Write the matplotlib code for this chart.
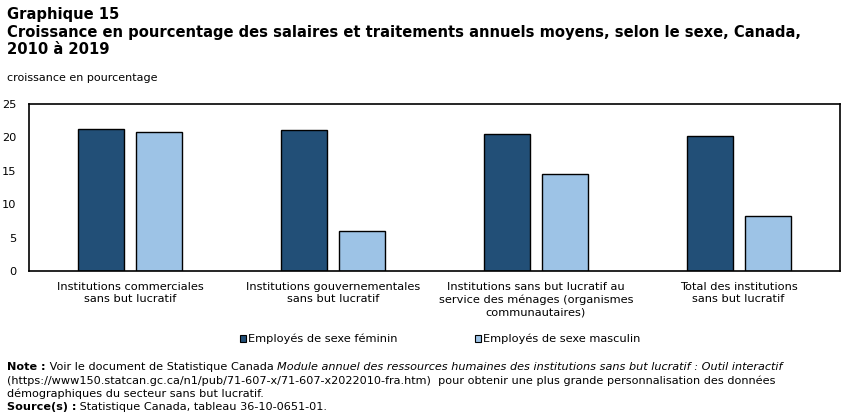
import matplotlib
matplotlib.use("Agg")
import matplotlib.pyplot as plt
import numpy as np
from matplotlib.patches import Patch

categories = [
    "Institutions commerciales\nsans but lucratif",
    "Institutions gouvernementales\nsans but lucratif",
    "Institutions sans but lucratif au\nservice des ménages (organismes\ncommunautaires)",
    "Total des institutions\nsans but lucratif",
]
feminin = [21.3, 21.1, 20.5, 20.2]
masculin = [20.8, 6.0, 14.5, 8.2]
series_names = ["Employés de sexe féminin", "Employés de sexe masculin"]
yticks = [0, 5, 10, 15, 20, 25]

dark = "#224f77"
light = "#9dc3e6"

plt.rcParams["font.family"] = ["DejaVu Sans"]
fig = plt.figure(figsize=(8.5, 4.16), dpi=100)
W, H = 850, 416


def fx(px):
    return px / W


def fy(py):
    return 1 - py / H


ax = fig.add_axes([fx(29), fy(271), fx(840) - fx(29), fy(104) - fy(271)])
x = np.arange(len(categories))
off, w = 0.143, 0.227
ax.bar(x - off, feminin, w, color=dark, edgecolor="black", linewidth=1)
ax.bar(x + off, masculin, w, color=light, edgecolor="black", linewidth=1)
ax.set_xlim(-0.5, len(categories) - 0.5)
ax.set_ylim(0, 25)
ax.set_yticks(yticks)
ax.set_yticklabels([str(t) for t in yticks], fontsize=8.2)
ax.set_xticks(x)
ax.set_xticklabels(categories, fontsize=8.2, linespacing=1.28)
ax.tick_params(axis="x", length=0, pad=8)
ax.tick_params(axis="y", length=0, pad=9)
for s in ax.spines.values():
    s.set_linewidth(1.2)

title_kw = dict(fontsize=10.6, fontweight="bold", va="center")
fig.text(fx(7), fy(14), "Graphique 15", **title_kw)
fig.text(fx(7), fy(32), "Croissance en pourcentage des salaires et traitements annuels moyens, selon le sexe, Canada,",
         **title_kw)
fig.text(fx(7), fy(49), "2010 à 2019", **title_kw)
fig.text(fx(7), fy(78), "croissance en pourcentage", fontsize=8, va="center")

handles = [Patch(facecolor=dark, edgecolor="black", linewidth=0.8),
           Patch(facecolor=light, edgecolor="black", linewidth=0.8)]
fig.legend(handles, series_names, loc="center", bbox_to_anchor=(fx(440), fy(339)), ncol=2,
           frameon=False, fontsize=8.2, handlelength=0.55, handleheight=0.55,
           handletextpad=0.15, columnspacing=6.8)

renderer = fig.canvas.get_renderer()


def line(pieces, py, size=8.1):
    cur = fx(7)
    for txt, style in pieces:
        kw = {}
        if style == "b":
            kw["fontweight"] = "bold"
        elif style == "i":
            kw["fontstyle"] = "italic"
        t = fig.text(cur, fy(py), txt, fontsize=size, va="baseline", **kw)
        bb = t.get_window_extent(renderer)
        cur += bb.width / W


line([("Note :", "b"), (" Voir le document de Statistique Canada ", ""),
      ("Module annuel des ressources humaines des institutions sans but lucratif : Outil interactif", "i")], 370)
line([("(https://www150.statcan.gc.ca/n1/pub/71-607-x/71-607-x2022010-fra.htm)  pour obtenir une plus grande personnalisation des données", "")], 384)
line([("démographiques du secteur sans but lucratif.", "")], 397)
line([("Source(s) :", "b"), (" Statistique Canada, tableau 36-10-0651-01.", "")], 410)

fig.savefig("out.png", dpi=100)
